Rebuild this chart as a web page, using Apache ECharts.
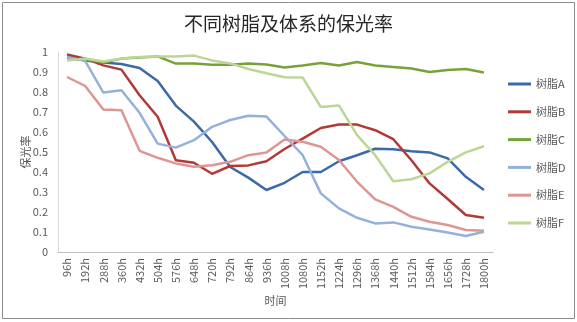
<!DOCTYPE html>
<html>
<head>
<meta charset="utf-8">
<script src="https://cdn.jsdelivr.net/npm/echarts@6/dist/echarts.min.js"></script>
<style>html,body{margin:0;padding:0;background:#fff}#c{width:577px;height:322px}</style>
</head>
<body>
<div id="c"></div>
<script>
const categories = ['96h','192h','288h','360h','432h','504h','576h','648h','720h','792h','864h','936h','1008h','1080h','1152h','1224h','1296h','1368h','1440h','1512h','1584h','1656h','1728h','1800h'];
const seriesNames = ['树脂A','树脂B','树脂C','树脂D','树脂E','树脂F'];
const resinA = [0.98,0.958,0.948,0.94,0.92,0.855,0.732,0.652,0.55,0.425,0.372,0.31,0.346,0.40,0.40,0.454,0.484,0.516,0.514,0.504,0.498,0.468,0.376,0.31];
const resinB = [0.988,0.967,0.933,0.912,0.784,0.676,0.459,0.446,0.391,0.43,0.433,0.454,0.515,0.567,0.62,0.638,0.637,0.609,0.564,0.459,0.343,0.265,0.185,0.171];
const resinC = [0.962,0.963,0.947,0.967,0.972,0.978,0.942,0.942,0.936,0.936,0.943,0.937,0.923,0.933,0.945,0.932,0.95,0.933,0.925,0.917,0.9,0.91,0.915,0.897];
const resinD = [0.975,0.955,0.797,0.809,0.696,0.542,0.522,0.559,0.626,0.66,0.681,0.677,0.58,0.484,0.293,0.218,0.171,0.143,0.148,0.126,0.113,0.097,0.08,0.101];
const resinE = [0.875,0.83,0.712,0.709,0.506,0.471,0.443,0.426,0.434,0.451,0.484,0.497,0.563,0.551,0.526,0.46,0.351,0.263,0.226,0.176,0.151,0.135,0.11,0.106];
const resinF = [0.958,0.967,0.953,0.967,0.975,0.978,0.978,0.982,0.958,0.943,0.915,0.894,0.874,0.872,0.725,0.733,0.584,0.484,0.354,0.364,0.393,0.451,0.498,0.529];
const yTicks = [0,0.1,0.2,0.3,0.4,0.5,0.6,0.7,0.8,0.9,1];

const colors = ['#3b6aa8','#b03a37','#77a23a','#93b1dc','#df9592','#bcd696'];
const values = [resinA,resinB,resinC,resinD,resinE,resinF];
const font = '"Noto Sans CJK SC","DejaVu Sans",sans-serif';

const chart = echarts.init(document.getElementById('c'));
chart.setOption({
  animation: false,
  color: colors,
  title: {
    text: '不同树脂及体系的保光率',
    left: 'center', top: 9,
    textStyle: {fontFamily: font, fontSize: 19, fontWeight: 'normal', color: '#262626'}
  },
  graphic: [{
    type: 'rect', shape: {x: 2.5, y: 2.5, width: 572, height: 316},
    style: {fill: 'none', stroke: '#8c8c8c', lineWidth: 1}, silent: true, z: -1
  }],
  legend: {
    orient: 'vertical', left: 503, top: 72,
    icon: 'rect', itemWidth: 23, itemHeight: 3, itemGap: 13.8,
    textStyle: {fontFamily: font, fontSize: 11, color: '#595959', lineHeight: 14},
    data: seriesNames
  },
  grid: {left: 58, right: 84, top: 52, bottom: 70},
  xAxis: {
    type: 'category', data: categories, boundaryGap: true,
    name: '时间', nameLocation: 'middle', nameGap: 43, nameMoveOverlap: false,
    nameTextStyle: {fontFamily: font, fontSize: 11, color: '#595959'},
    axisLine: {lineStyle: {color: '#bfbfbf'}},
    axisTick: {show: false},
    axisLabel: {rotate: 90, interval: 0, fontFamily: font, fontSize: 11, color: '#595959', margin: 6}
  },
  yAxis: {
    type: 'value', min: 0, max: 1, interval: 0.1,
    name: '保光率', nameLocation: 'middle', nameGap: 27, nameMoveOverlap: false,
    nameTextStyle: {fontFamily: font, fontSize: 11, color: '#595959'},
    axisLine: {show: true, lineStyle: {color: '#d9d9d9'}},
    axisTick: {show: false},
    splitLine: {show: false},
    axisLabel: {fontFamily: font, fontSize: 11, color: '#595959', margin: 10,
      formatter: v => { const t = yTicks.find(x => Math.abs(x - v) < 1e-6); return String(t !== undefined ? t : v); }}
  },
  series: seriesNames.map((n, i) => ({
    name: n, type: 'line', data: values[i], showSymbol: false, symbol: 'none',
    lineStyle: {width: 2.5, color: colors[i]}, itemStyle: {color: colors[i]}
  }))
});
</script>
</body>
</html>
